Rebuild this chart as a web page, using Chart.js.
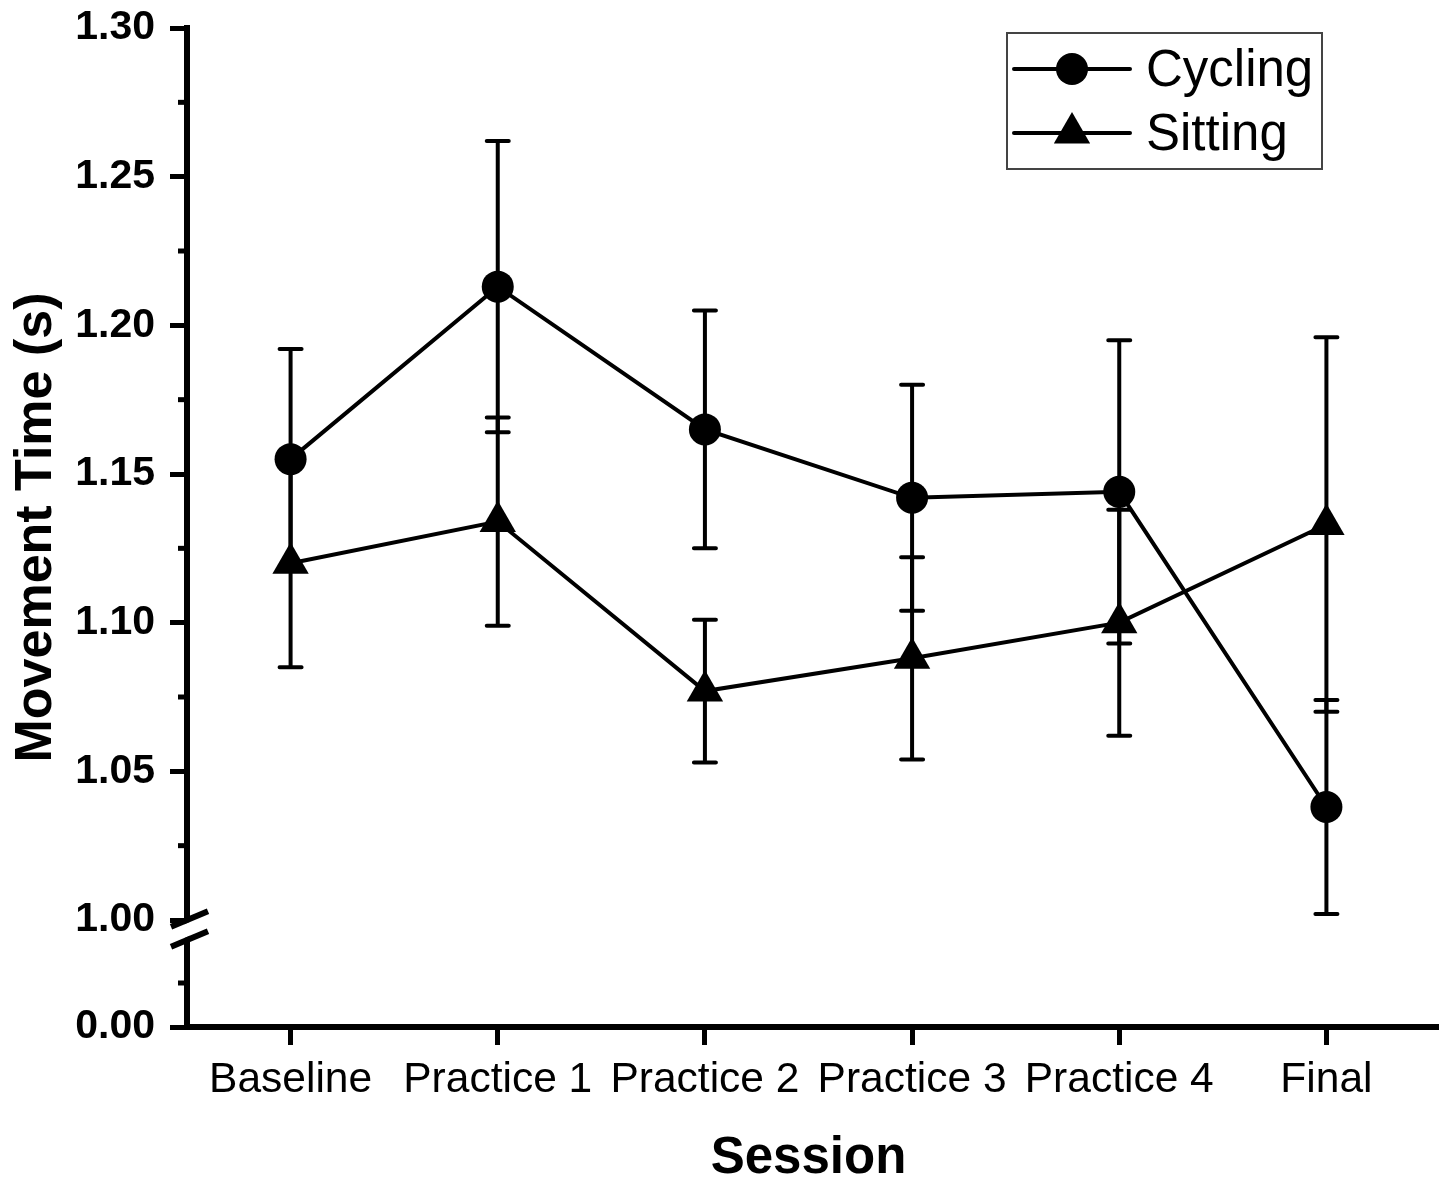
<!DOCTYPE html>
<html>
<head>
<meta charset="utf-8">
<title>Movement Time by Session</title>
<script src="https://cdn.jsdelivr.net/npm/chart.js@4.4.1/dist/chart.umd.min.js"></script>
<style>
  html, body { margin: 0; padding: 0; background: #fff; }
  #wrap { width: 1439px; height: 1179px; position: relative; }
</style>
</head>
<body>
<div id="wrap"><canvas id="movementChart"></canvas></div>
<script>
// Data
const sessions = ['Baseline', 'Practice 1', 'Practice 2', 'Practice 3', 'Practice 4', 'Final'];
const cyclingMean = [1.155, 1.213, 1.165, 1.142, 1.144, 1.038];
const cyclingErr  = [0.037, 0.049, 0.040, 0.038, 0.051, 0.036];
const sittingMean = [1.120, 1.134, 1.077, 1.088, 1.100, 1.133];
const sittingErr  = [0.035, 0.035, 0.024, 0.034, 0.038, 0.063];
const yTicks      = [0, 1.00, 1.05, 1.10, 1.15, 1.20, 1.25, 1.30];
const yMinorTicks = [0.5, 1.025, 1.075, 1.125, 1.175, 1.225, 1.275];

// Broken axis: 0..1 squeezed into the bottom segment, 1.00..1.30 stretched above the break
const LOW_SPAN = 88;
const BREAK_AT = 107;
const UPPER_SCALE = 892 / 0.30;
function toAxis(v) {
    return v < 1 ? v * LOW_SPAN : BREAK_AT + (v - 1) * UPPER_SCALE;
}

const FONT = "'Liberation Sans', Arial, sans-serif";

// Error bars with caps, drawn under the markers
const errorBars = {
    id: 'errorBars',
    beforeDatasetsDraw(chart) {
        const { ctx, scales: { x, y } } = chart;
        ctx.save();
        ctx.strokeStyle = '#000';
        ctx.lineWidth = 4;
        ctx.lineCap = 'round';
        chart.data.datasets.forEach(ds => {
            ds.means.forEach((m, i) => {
                const px = x.getPixelForValue(i);
                const top = y.getPixelForValue(toAxis(m + ds.errors[i]));
                const bot = y.getPixelForValue(toAxis(m - ds.errors[i]));
                ctx.beginPath();
                ctx.moveTo(px, top); ctx.lineTo(px, bot);
                ctx.moveTo(px - 11, top); ctx.lineTo(px + 11, top);
                ctx.moveTo(px - 11, bot); ctx.lineTo(px + 11, bot);
                ctx.stroke();
            });
        });
        ctx.restore();
    }
};

// Minor ticks, axis break, axis extension and the boxed legend
const decorations = {
    id: 'decorations',
    afterDraw(chart) {
        const { ctx, chartArea, scales: { y } } = chart;
        const ax = chartArea.left;
        ctx.save();
        ctx.strokeStyle = '#000';
        ctx.fillStyle = '#000';

        // minor ticks
        ctx.lineWidth = 5;
        yMinorTicks.forEach(v => {
            const py = y.getPixelForValue(toAxis(v));
            ctx.beginPath();
            ctx.moveTo(ax - 9, py);
            ctx.lineTo(ax, py);
            ctx.stroke();
        });

        // x axis runs on to the edge
        ctx.lineWidth = 6;
        ctx.beginPath();
        ctx.moveTo(chartArea.right - 2, chartArea.bottom);
        ctx.lineTo(chart.width, chartArea.bottom);
        ctx.stroke();

        // break marks on the y axis
        const yb = y.getPixelForValue(toAxis(1.00));
        const slope = 0.42;
        ctx.fillStyle = '#fff';
        ctx.beginPath();
        ctx.moveTo(ax - 6, yb + 3 + 6 * slope);
        ctx.lineTo(ax + 6, yb + 3 - 6 * slope);
        ctx.lineTo(ax + 6, yb + 17 - 6 * slope);
        ctx.lineTo(ax - 6, yb + 17 + 6 * slope);
        ctx.closePath();
        ctx.fill();
        ctx.lineWidth = 6;
        [0, 20].forEach(dy => {
            ctx.beginPath();
            ctx.moveTo(ax - 16, yb + dy + 16 * slope);
            ctx.lineTo(ax + 21, yb + dy - 21 * slope);
            ctx.stroke();
        });

        // legend
        ctx.fillStyle = '#000';
        ctx.strokeStyle = '#444';
        ctx.lineWidth = 2;
        ctx.strokeRect(1007, 33, 315, 136);
        const rowY = [69, 133];
        chart.data.datasets.forEach((ds, i) => {
            const ly = rowY[i];
            ctx.strokeStyle = '#000';
            ctx.lineWidth = 4;
            ctx.lineCap = 'round';
            ctx.beginPath();
            ctx.moveTo(1014, ly);
            ctx.lineTo(1130, ly);
            ctx.stroke();
            Chart.helpers.drawPoint(ctx, {
                pointStyle: ds.pointStyle,
                radius: ds.pointRadius,
                borderWidth: 0,
                rotation: 0
            }, 1072, ly);
            ctx.font = '51px ' + FONT;
            ctx.textBaseline = 'alphabetic';
            ctx.textAlign = 'left';
            ctx.fillText(ds.label, 1146, ly + 17);
        });
        ctx.restore();
    }
};

const ctx = document.getElementById('movementChart').getContext('2d');
new Chart(ctx, {
    type: 'line',
    data: {
        labels: sessions,
        datasets: [{
            label: 'Cycling',
            data: cyclingMean.map(toAxis),
            means: cyclingMean,
            errors: cyclingErr,
            borderColor: '#000',
            backgroundColor: '#000',
            borderWidth: 4,
            pointStyle: 'circle',
            pointRadius: 16,
            pointBorderWidth: 0,
            pointBackgroundColor: '#000',
            tension: 0
        }, {
            label: 'Sitting',
            data: sittingMean.map(toAxis),
            means: sittingMean,
            errors: sittingErr,
            borderColor: '#000',
            backgroundColor: '#000',
            borderWidth: 4,
            pointStyle: 'triangle',
            pointRadius: 21,
            pointBorderWidth: 0,
            pointBackgroundColor: '#000',
            tension: 0
        }]
    },
    options: {
        responsive: true,
        maintainAspectRatio: false,
        devicePixelRatio: 1,
        animation: false,
        clip: false,
        layout: {
            autoPadding: false,
            padding: { top: 28, right: 9, left: 1, bottom: 0 }
        },
        plugins: {
            legend: { display: false },
            tooltip: { enabled: false }
        },
        scales: {
            x: {
                offset: true,
                afterFit(scale) {
                    scale.height = 152;
                    scale.paddingLeft = 0;
                    scale.paddingRight = 0;
                },
                grid: {
                    drawOnChartArea: false,
                    drawTicks: true,
                    tickLength: 18,
                    tickWidth: 5,
                    tickColor: '#000'
                },
                border: { display: true, color: '#000', width: 6 },
                ticks: {
                    color: '#000',
                    padding: 10,
                    maxRotation: 0,
                    autoSkip: false,
                    font: { family: FONT, size: 42.5 }
                },
                title: {
                    display: true,
                    text: 'Session',
                    color: '#000',
                    padding: { top: 0, bottom: 0 },
                    font: { family: FONT, size: 51, weight: 'bold', lineHeight: 0.8 }
                }
            },
            y: {
                min: 0,
                max: toAxis(1.30),
                afterFit(scale) {
                    scale.width = 186;
                    scale.paddingTop = 0;
                    scale.paddingBottom = 0;
                },
                afterBuildTicks(scale) {
                    scale.ticks = yTicks.map(v => ({ value: toAxis(v) }));
                },
                grid: {
                    drawOnChartArea: false,
                    drawTicks: true,
                    tickLength: 17,
                    tickWidth: 5,
                    tickColor: '#000'
                },
                border: { display: true, color: '#000', width: 6 },
                ticks: {
                    color: '#000',
                    padding: 15,
                    font: { family: FONT, size: 41, weight: 'bold' },
                    callback: (value, index) => yTicks[index].toFixed(2)
                },
                title: {
                    display: true,
                    text: 'Movement Time (s)',
                    color: '#000',
                    padding: { top: 4, bottom: 0 },
                    font: { family: FONT, size: 52, weight: 'bold' }
                }
            }
        }
    },
    plugins: [errorBars, decorations]
});
</script>
</body>
</html>
